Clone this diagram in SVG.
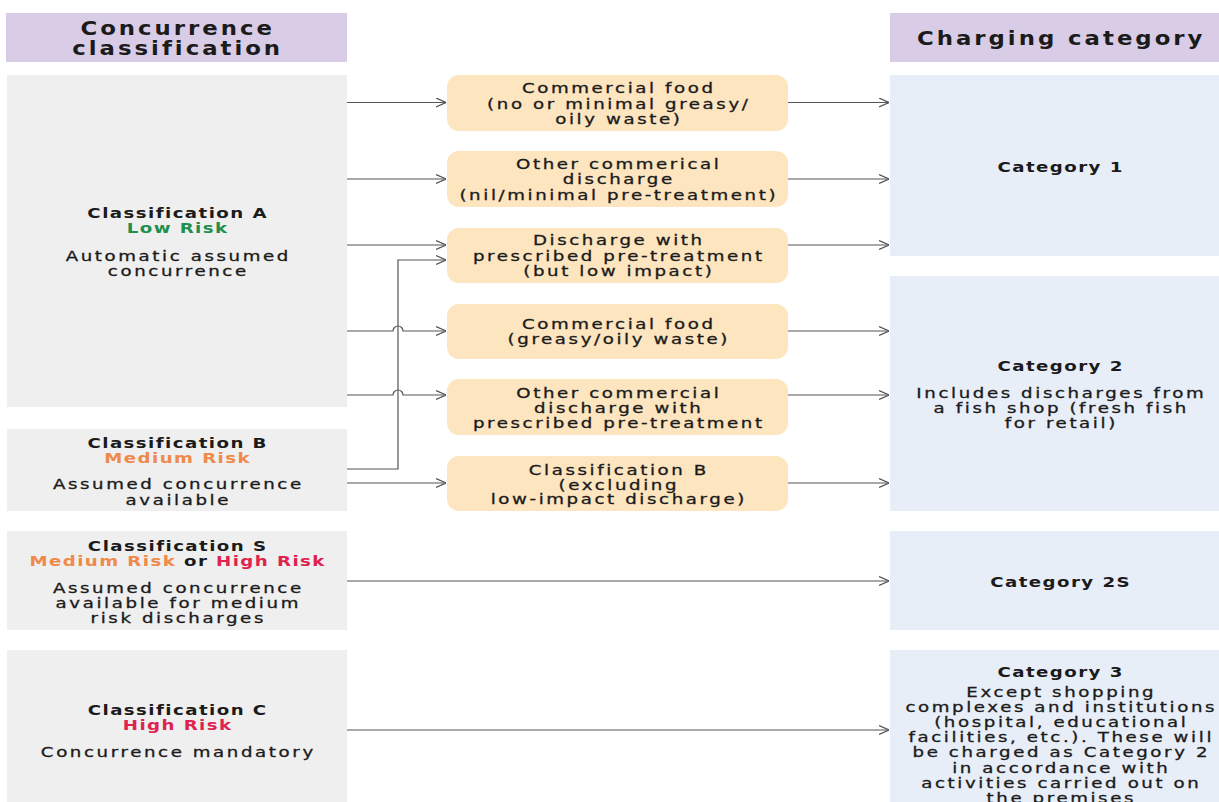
<svg xmlns="http://www.w3.org/2000/svg" width="1219" height="802" viewBox="0 0 1219 802">
<style>
.hdr{fill:#d9cce6}
.left{fill:#efefef}
.mid{fill:#fde5c0}
.right{fill:#e8eef8}
text{font-family:"DejaVu Sans","Liberation Sans",sans-serif;font-size:14px;letter-spacing:2px;fill:#1b1b1b;text-anchor:middle;stroke:#1b1b1b;stroke-width:0.3px}
.b{font-weight:bold;letter-spacing:1.1px;stroke:none}
.h{font-size:19px;font-weight:bold;letter-spacing:2.5px;stroke:none}
.g{fill:#1f8f4e}
.o{fill:#f0894a}
.r{fill:#e0224f}
.k{fill:#1b1b1b}
.ln{fill:none;stroke:#555;stroke-width:1.2}
</style>
<defs>
<marker id="arr" viewBox="0 0 10 10" refX="10" refY="5" markerWidth="10" markerHeight="10" markerUnits="userSpaceOnUse" orient="auto">
<path d="M0,0.5 L10,5 L0,9.5" fill="none" stroke="#555" stroke-width="1.2"/>
</marker>
</defs>
<rect width="1219" height="802" fill="#ffffff"/>

<g id="header-left">
<rect class="hdr" x="6" y="13" width="341" height="49"/>
<g transform="matrix(1.2,0,0,1,-35.3,0)">
<text class="h" x="177.5" y="35">Concurrence</text>
<text class="h" x="177.5" y="55">classification</text>
</g>
</g>
<g id="header-right">
<rect class="hdr" x="890" y="13" width="329" height="49"/>
<g transform="matrix(1.2,0,0,1,-212,0)">
<text class="h" x="1061" y="45">Charging category</text>
</g>
</g>

<g id="class-a">
<rect class="left" x="7" y="75" width="340" height="332"/>
<g transform="matrix(1.3,0,0,1,-53.1,0)">
<text class="b" x="177.5" y="218">Classification A</text>
<text class="b g" x="177.5" y="233">Low Risk</text>
<text x="178" y="261">Automatic assumed</text>
<text x="178" y="276">concurrence</text>
</g>
</g>
<g id="class-b">
<rect class="left" x="7" y="429" width="340" height="82"/>
<g transform="matrix(1.3,0,0,1,-53.1,0)">
<text class="b" x="177.5" y="448">Classification B</text>
<text class="b o" x="177.5" y="463">Medium Risk</text>
<text x="178" y="489">Assumed concurrence</text>
<text x="178" y="505">available</text>
</g>
</g>
<g id="class-s">
<rect class="left" x="7" y="531" width="340" height="99"/>
<g transform="matrix(1.3,0,0,1,-53.1,0)">
<text class="b" x="177.5" y="551">Classification S</text>
<text class="b" x="177.5" y="566"><tspan class="o">Medium Risk</tspan><tspan class="k"> or </tspan><tspan class="r">High Risk</tspan></text>
<text x="178" y="593">Assumed concurrence</text>
<text x="178" y="608">available for medium</text>
<text x="178" y="623">risk discharges</text>
</g>
</g>
<g id="class-c">
<rect class="left" x="7" y="650" width="340" height="160"/>
<g transform="matrix(1.3,0,0,1,-53.1,0)">
<text class="b" x="177.5" y="715">Classification C</text>
<text class="b r" x="177.5" y="730">High Risk</text>
<text x="178" y="757">Concurrence mandatory</text>
</g>
</g>

<g id="mid-1">
<rect class="mid" x="447" y="75" width="341" height="56" rx="12"/>
<g transform="matrix(1.3,0,0,1,-185.25,0)">
<text x="618.5" y="93">Commercial food</text>
<text x="618.5" y="109">(no or minimal greasy/</text>
<text x="618.5" y="124">oily waste)</text>
</g>
</g>
<g id="mid-2">
<rect class="mid" x="447" y="151" width="341" height="56" rx="12"/>
<g transform="matrix(1.3,0,0,1,-185.25,0)">
<text x="618.5" y="169">Other commerical</text>
<text x="618.5" y="184">discharge</text>
<text x="618.5" y="200">(nil/minimal pre-treatment)</text>
</g>
</g>
<g id="mid-3">
<rect class="mid" x="447" y="228" width="341" height="55" rx="12"/>
<g transform="matrix(1.3,0,0,1,-185.25,0)">
<text x="618.5" y="245">Discharge with</text>
<text x="618.5" y="261">prescribed pre-treatment</text>
<text x="618.5" y="276">(but low impact)</text>
</g>
</g>
<g id="mid-4">
<rect class="mid" x="447" y="304" width="341" height="55" rx="12"/>
<g transform="matrix(1.3,0,0,1,-185.25,0)">
<text x="618.5" y="329">Commercial food</text>
<text x="618.5" y="344">(greasy/oily waste)</text>
</g>
</g>
<g id="mid-5">
<rect class="mid" x="447" y="379" width="341" height="56" rx="12"/>
<g transform="matrix(1.3,0,0,1,-185.25,0)">
<text x="618.5" y="398">Other commercial</text>
<text x="618.5" y="413">discharge with</text>
<text x="618.5" y="428">prescribed pre-treatment</text>
</g>
</g>
<g id="mid-6">
<rect class="mid" x="447" y="456" width="341" height="55" rx="12"/>
<g transform="matrix(1.3,0,0,1,-185.25,0)">
<text x="618.5" y="475">Classification B</text>
<text x="618.5" y="490">(excluding</text>
<text x="618.5" y="504">low-impact discharge)</text>
</g>
</g>

<g id="cat-1">
<rect class="right" x="890" y="75" width="329" height="181"/>
<g transform="matrix(1.3,0,0,1,-318,0)">
<text class="b" x="1060.5" y="172">Category 1</text>
</g>
</g>
<g id="cat-2">
<rect class="right" x="890" y="276" width="329" height="235"/>
<g transform="matrix(1.3,0,0,1,-318,0)">
<text class="b" x="1060.5" y="371">Category 2</text>
<text x="1061" y="398">Includes discharges from</text>
<text x="1061" y="413">a fish shop (fresh fish</text>
<text x="1061" y="428">for retail)</text>
</g>
</g>
<g id="cat-2s">
<rect class="right" x="890" y="531" width="329" height="99"/>
<g transform="matrix(1.3,0,0,1,-318,0)">
<text class="b" x="1060.5" y="587">Category 2S</text>
</g>
</g>
<g id="cat-3">
<rect class="right" x="890" y="650" width="329" height="160"/>
<g transform="matrix(1.3,0,0,1,-318,0)">
<text class="b" x="1060.5" y="677">Category 3</text>
<text x="1061" y="697">Except shopping</text>
<text x="1061" y="712">complexes and institutions</text>
<text x="1061" y="727">(hospital, educational</text>
<text x="1061" y="742">facilities, etc.). These will</text>
<text x="1061" y="757">be charged as Category 2</text>
<text x="1061" y="773">in accordance with</text>
<text x="1061" y="788">activities carried out on</text>
<text x="1061" y="803">the premises</text>
</g>
</g>

<g id="connectors">
<path class="ln" marker-end="url(#arr)" d="M347,102.5 H446"/>
<path class="ln" marker-end="url(#arr)" d="M347,179 H446"/>
<path class="ln" marker-end="url(#arr)" d="M347,245 H446"/>
<path class="ln" marker-end="url(#arr)" d="M347,331 H393 A5,5 0 0 1 403,331 H446"/>
<path class="ln" marker-end="url(#arr)" d="M347,395 H393 A5,5 0 0 1 403,395 H446"/>
<path class="ln" marker-end="url(#arr)" d="M347,469 H398 V260 H446"/>
<path class="ln" marker-end="url(#arr)" d="M347,483 H446"/>
<path class="ln" marker-end="url(#arr)" d="M788,102.5 H889"/>
<path class="ln" marker-end="url(#arr)" d="M788,179 H889"/>
<path class="ln" marker-end="url(#arr)" d="M788,245 H889"/>
<path class="ln" marker-end="url(#arr)" d="M788,331 H889"/>
<path class="ln" marker-end="url(#arr)" d="M788,395 H889"/>
<path class="ln" marker-end="url(#arr)" d="M788,483 H889"/>
<path class="ln" marker-end="url(#arr)" d="M347,581 H889"/>
<path class="ln" marker-end="url(#arr)" d="M347,730 H889"/>
</g>
</svg>
